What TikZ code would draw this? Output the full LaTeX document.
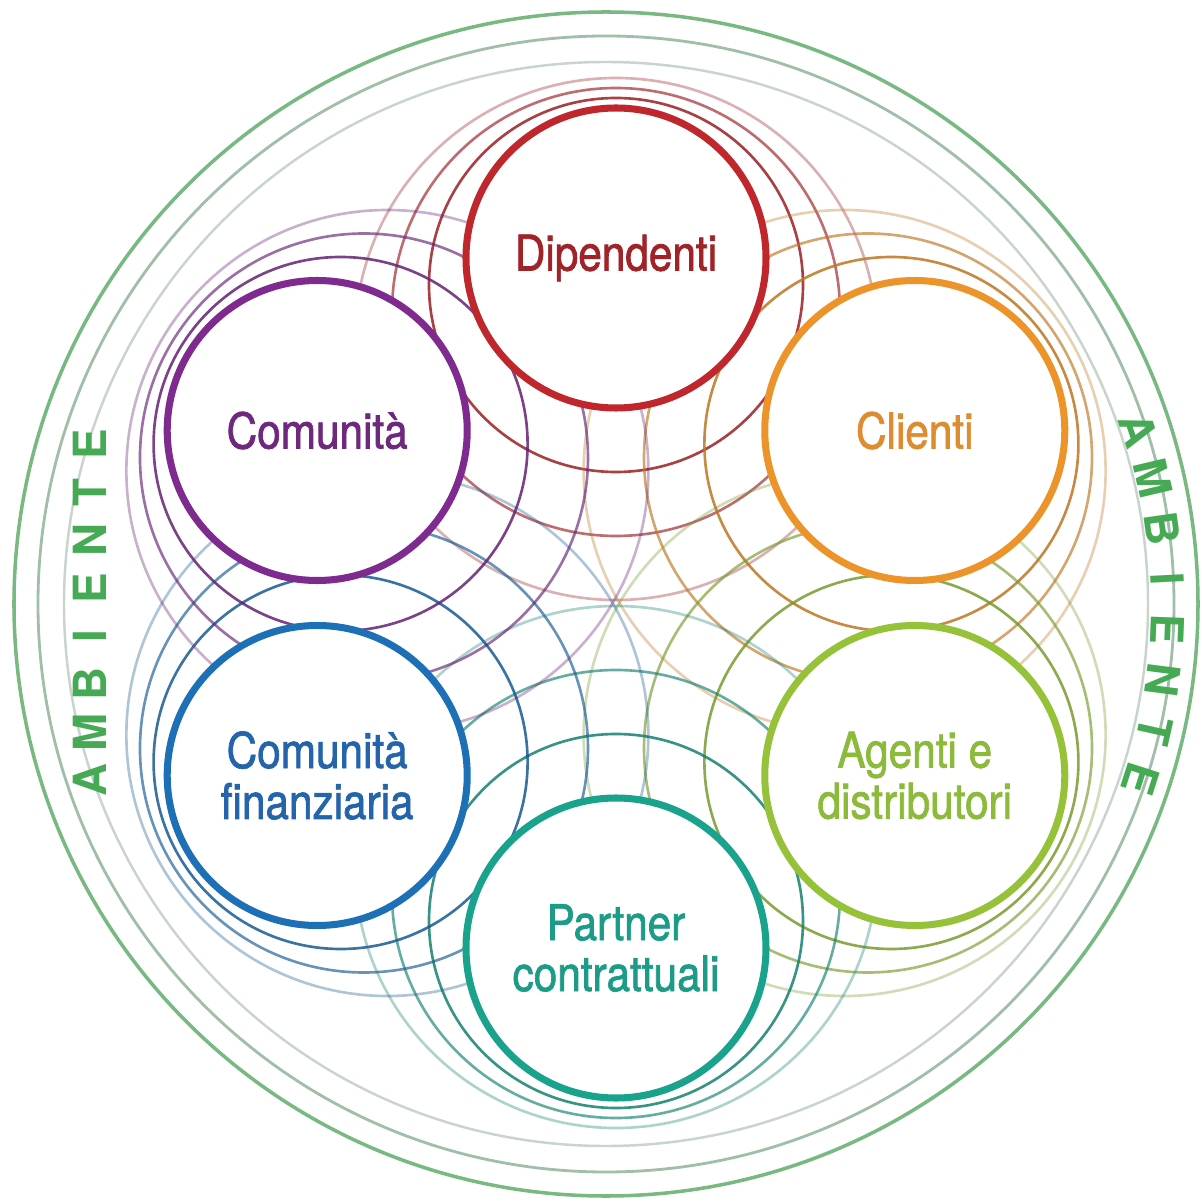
\documentclass[tikz,border=0pt]{standalone}
\usepackage{fontspec}
\setmainfont{TeX Gyre Heros}[FakeStretch=0.86,FakeBold=1.4]
\newfontfamily\ambfont{TeX Gyre Heros}
\usepackage{xcolor}
\usepackage{tikz}
\usetikzlibrary{positioning}
\usetikzlibrary{calc}
\definecolor{dipred}{RGB}{192,39,45}
\definecolor{cliorange}{RGB}{236,148,42}
\definecolor{agegreen}{RGB}{150,194,58}
\definecolor{parteal}{RGB}{26,163,140}
\definecolor{finblue}{RGB}{30,112,182}
\definecolor{compurple}{RGB}{126,42,142}
\definecolor{ambgreen}{RGB}{70,170,84}
\definecolor{halogreen}{RGB}{120,185,130}
\definecolor{halogray}{RGB}{160,190,168}
\definecolor{halopale}{RGB}{200,212,204}
\tikzstyle{stake}=[circle,draw,line width=2pt,fill=white,minimum size=3cm,inner sep=0pt,align=center,font=\fontsize{14}{14.5}\selectfont]
\tikzstyle{ring}=[line width=0.75pt]
\tikzstyle{halo}=[line width=0.8pt]
\tikzstyle{letter}=[font=\ambfont\bfseries\fontsize{13}{13}\selectfont,text=ambgreen,inner sep=0pt]

\begin{document}
\begin{tikzpicture}

	\def\d{3.45};  % centre of the stakeholder circles
	\def\s{0.27};  % inward shift of each ring
	\def\g{0.37};  % growth of each ring
	\def\r{1.5};

	\useasboundingbox (-6.16,-6.01) rectangle (5.86,6.03);
	\fill[white] (-6.16,-6.01) rectangle (5.86,6.03);

%outer rings
	\foreach \rad/\col/\lw in {5.92/halogreen/1.0pt, 5.68/halogray/0.8pt, 5.42/halopale/0.7pt}
		\draw[halo, draw=\col, line width=\lw] (-0.10,-0.01) circle (\rad);

%rings of each stakeholder
	\foreach \ang/\col in {90/dipred, 30/cliorange, -30/agegreen, -90/parteal, -150/finblue, 150/compurple}
		\foreach \k/\op in {1/0.85, 2/0.65, 3/0.35}
			\draw[ring, draw=\col!80!black, opacity=\op] (\ang:{\d-\k*\s}) circle ({\r+\k*\g});

%stakeholders
	\node[stake, draw=dipred, text={rgb,255:red,160;green,35;blue,40}] (dip) at (90:\d) {Dipendenti};
	\node[stake, draw=cliorange, text={rgb,255:red,222;green,140;blue,48}] (cli) at (30:\d) {Clienti};
	\node[stake, draw=agegreen, text={rgb,255:red,140;green,186;blue,58}] (age) at (-30:\d) {Agenti e\\distributori};
	\node[stake, draw=parteal, text={rgb,255:red,28;green,156;blue,134}] (par) at (-90:\d) {Partner\\contrattuali};
	\node[stake, draw=finblue, text={rgb,255:red,36;green,100;blue,170}] (fin) at (-150:\d) {Comunità\\finanziaria};
	\node[stake, draw=compurple, text={rgb,255:red,110;green,40;blue,125}] (com) at (150:\d) {Comunità};

%ambiente, left column and right arc
	\foreach \ch [count=\i from 0] in {A,M,B,I,E,N,T,E} {
		\pgfmathsetmacro\yl{-1.77+\i*0.479}
		\pgfmathsetmacro\phr{18.5-\i*5.18}
		\node[letter, rotate=90] (ambl\i) at (-5.26,\yl) {\ch};
		\node[letter, rotate=\phr-90] (ambr\i) at ($(-0.10,-0.05)+(\phr:5.62)$) {\ch};
	}

\end{tikzpicture}
\end{document}
